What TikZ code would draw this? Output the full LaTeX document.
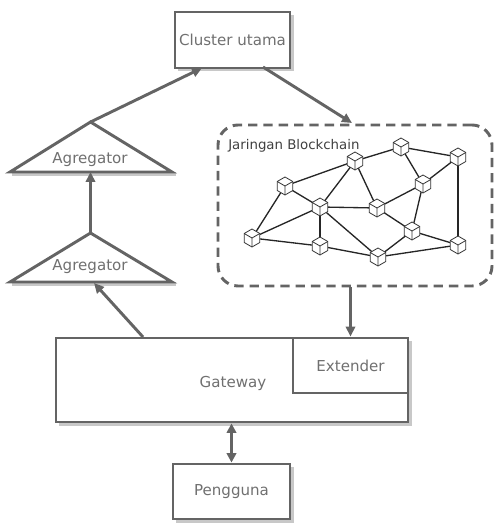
\documentclass[tikz,border=0pt]{standalone}
\usepackage{fontspec}
\setmainfont{DejaVu Sans}
\usetikzlibrary{arrows.meta}
\definecolor{linegray}{RGB}{100,100,100}
\definecolor{textgray}{RGB}{112,112,112}
\definecolor{shadowgray}{RGB}{200,200,200}
\tikzset{
  px/.style={x=0.75pt,y=-0.75pt},
  labelfont/.style={font=\fontsize{11.3}{13}\selectfont},
  box/.style={draw=linegray, line width=2.2pt, fill=white, text=textgray,
    labelfont, inner sep=0pt},
  conn/.style={draw=linegray, line width=2.2pt,
    -{Triangle[length=7.5pt,width=7pt]}},
  biconn/.style={draw=linegray, line width=2.2pt,
    {Triangle[length=7pt,width=7pt]}-{Triangle[length=7pt,width=7pt]}},
  tri/.style={draw=linegray, line width=2.2pt, fill=white, line join=miter},
  trilabel/.style={text=textgray, labelfont},
  cubept/.style={circle, inner sep=0pt, minimum size=10pt},
  link/.style={draw=black!85, line width=1pt},
  cubeface/.style={draw=black!80, line width=0.6pt, fill=white, line join=round},
}
% a small isometric cube centred on the given point
\newcommand{\cubeat}[1]{%
  \begin{scope}[shift={(#1)}]
    \path[cubeface] (0,-9) -- (7.8,-4.5) -- (7.8,4.5) -- (0,9) -- (-7.8,4.5) -- (-7.8,-4.5) -- cycle;
    \draw[black!80, line width=0.6pt] (-7.8,-4.5) -- (0,0) -- (7.8,-4.5) (0,0) -- (0,9);
  \end{scope}}
\begin{document}
\begin{tikzpicture}[px]
\useasboundingbox (0,0) rectangle (494,523);

% shadows under the boxes and triangles
\fill[shadowgray] (178,15) rectangle (294,71);
\fill[shadowgray] (59,341) rectangle (412,426);
\fill[shadowgray] (176,467) rectangle (294,523);
\fill[shadowgray] (12,172) rectangle (176,176);
\fill[shadowgray] (12,282) rectangle (176,286);

% main boxes
\node[box, minimum width=86.25pt, minimum height=42pt] (cluster) at (232.5,40) {Cluster utama};
\node[box, minimum width=264pt, minimum height=63pt] (gateway) at (232,380) {};
\node[text=textgray, labelfont] (gwlabel) at (233,383) {Gateway};
\node[box, minimum width=86.25pt, minimum height=41.25pt] (extender) at (350.5,365.5) {Extender};
\node[box, minimum width=87.75pt, minimum height=41.25pt] (pengguna) at (231.5,491.5) {Pengguna};

% aggregator triangles
\path[tri] (90.5,122) -- (172,172) -- (10,172) -- cycle;
\path[tri] (90.5,233) -- (172,282) -- (10,282) -- cycle;
\coordinate (ag1top) at (90.5,122);
\coordinate (ag1base) at (90.5,172);
\coordinate (ag2top) at (90.5,233);
\coordinate (ag2hit) at (94,283);
\node[trilabel] (ag1) at (90,160) {Agregator};
\node[trilabel] (ag2) at (90,267) {Agregator};

% blockchain network area
\node[draw=linegray, line width=2.2pt, dash pattern=on 7pt off 4.5pt,
  rounded corners=15pt, minimum width=205.5pt, minimum height=120.75pt,
  inner sep=0pt] (chain) at (355,205.5) {};
\node[anchor=west, inner sep=0pt, text=black!75, font=\fontsize{10}{12}\selectfont] (chainlabel) at (228,146) {Jaringan Blockchain};

% network nodes
\node[cubept] (A) at (285,186) {};
\node[cubept] (B) at (355,161) {};
\node[cubept] (C) at (401,147) {};
\node[cubept] (D) at (458,157) {};
\node[cubept] (E) at (423,184) {};
\node[cubept] (F) at (320,207) {};
\node[cubept] (G) at (377,208) {};
\node[cubept] (H) at (412,231) {};
\node[cubept] (I) at (252,238) {};
\node[cubept] (J) at (320,246) {};
\node[cubept] (K) at (378,257) {};
\node[cubept] (L) at (458,245) {};

\foreach \a/\b in {A/B,A/F,A/I,B/C,B/F,B/G,C/E,C/D,D/E,D/L,E/G,E/H,
                   F/G,F/I,F/J,F/K,G/H,I/J,J/K,K/H,K/L,H/L}
  \draw[link] (\a.center) -- (\b.center);
\foreach \n in {A,B,C,D,E,F,G,H,I,J,K,L}
  \cubeat{\n};

% connectors
\coordinate (clusterleft) at (202,68);
\coordinate (clusterright) at (263,67);
\coordinate (chaintop) at (352,123);
\coordinate (gwleft) at (143,337);
\draw[conn] (ag1top) -- (clusterleft);
\draw[conn] (clusterright) -- (chaintop);
\draw[conn] (ag2top) -- (ag1base);
\draw[conn] (gwleft) -- (ag2hit);
\draw[conn] (chain.south -| extender.north) -- (extender.north);
\draw[biconn] (gateway.south -| pengguna.north) -- (pengguna.north);
\end{tikzpicture}
\end{document}
